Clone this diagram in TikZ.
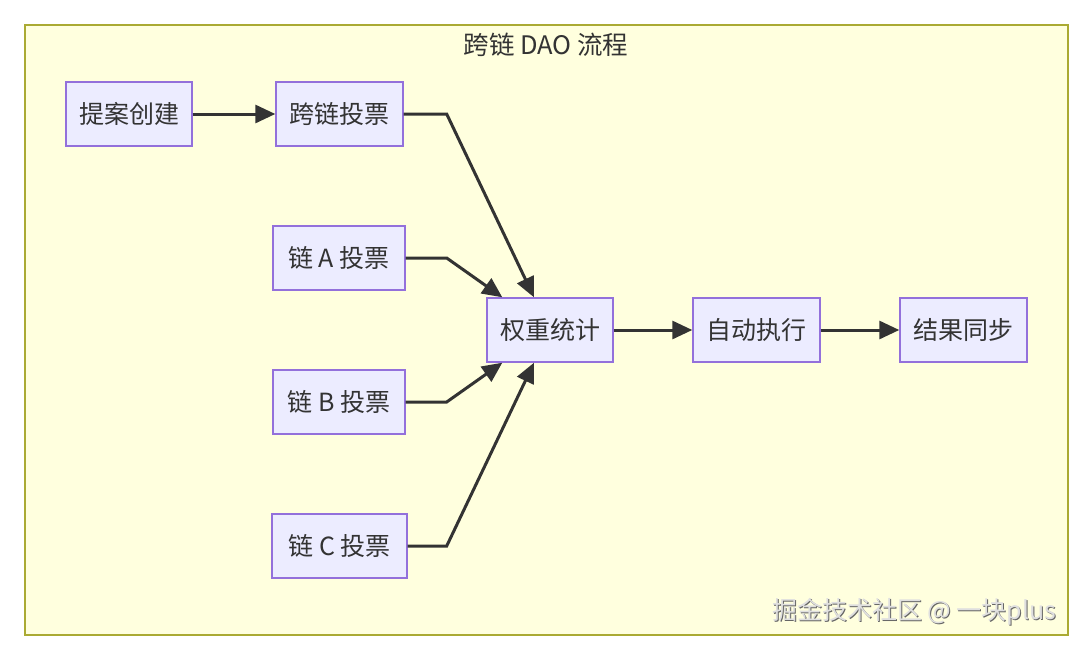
\documentclass[tikz,border=0pt]{standalone}
\usepackage{fontspec}
\setmainfont{Noto Sans CJK SC}
\usepackage{xcolor}
\usetikzlibrary{arrows.meta, positioning, calc}

\definecolor{clusterfill}{HTML}{FFFFDE}
\definecolor{clusterline}{HTML}{AAAA33}
\definecolor{boxfill}{HTML}{ECECFF}
\definecolor{boxline}{HTML}{9370DB}
\definecolor{edgecol}{HTML}{333333}

\begin{document}
\begin{tikzpicture}[
		x=1pt, y=-1pt,
		box/.style={draw=boxline, line width=1.4pt, fill=boxfill, minimum height=64pt, inner xsep=12pt, font=\fontsize{25}{28}\selectfont, text=edgecol},
		flow/.style={->, line width=3pt, draw=edgecol},
		>={Triangle[length=20pt, width=18pt]}
	]
		\useasboundingbox (0,0) rectangle (1080,648);
		\fill[white] (0,0) rectangle (1080,648);

		% Cluster
		\draw[clusterline, line width=1.4pt, fill=clusterfill] (25,25) rectangle (1068,635);
		\node[font=\fontsize{25.5}{28}\selectfont, text=edgecol] (title) at (546,45) {跨链 DAO 流程};

		% Proposal and votes
		\node[box, minimum width=126pt] (create) at (129,114) {提案创建};
		\node[box, minimum width=127pt] (vote) at (339.5,114) {跨链投票};
		\node[box, minimum width=132pt] (votea) at (339,258) {链 A 投票};
		\node[box, minimum width=132pt] (voteb) at (339,402) {链 B 投票};
		\node[box, minimum width=135pt] (votec) at (339.5,546) {链 C 投票};

		% Tally and execution
		\node[box, minimum width=126pt] (tally) at (550,330) {权重统计};
		\node[box, minimum width=127pt] (exec) at (756.5,330) {自动执行};
		\node[box, minimum width=127pt] (sync) at (963.5,330) {结果同步};

		% Edges
		\draw[flow] (create) -- (vote);
		\draw[flow] (vote.east) -- ++(43,0) -- ([xshift=-16pt]tally.north);
		\draw[flow] (votea.east) -- ++(41,0) -- ([xshift=16pt]tally.north west);
		\draw[flow] (voteb.east) -- ++(41,0) -- ([xshift=16pt]tally.south west);
		\draw[flow] (votec.east) -- ++(39,0) -- ([xshift=-16pt]tally.south);
		\draw[flow] (tally) -- (exec);
		\draw[flow] (exec) -- (sync);

		% Watermark
		\node[anchor=east, font=\fontsize{25}{28}\selectfont, text=black!60] at (1061,613) {掘金技术社区 @ 一块plus};
		\node[anchor=east, font=\fontsize{25}{28}\selectfont, text=gray!25] (mark) at (1060,612) {掘金技术社区 @ 一块plus};
	\end{tikzpicture}
\end{document}
